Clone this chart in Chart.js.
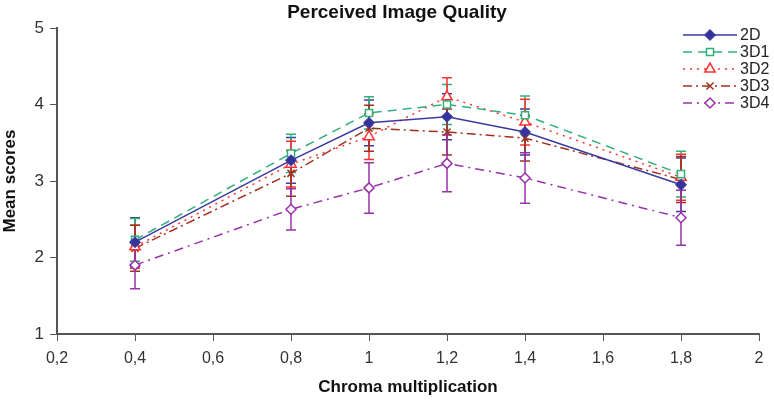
<!DOCTYPE html>
<html>
<head>
<meta charset="utf-8">
<script src="https://cdn.jsdelivr.net/npm/chart.js@4.4.1/dist/chart.umd.min.js"></script>
<style>
  html, body { margin: 0; padding: 0; background: #ffffff; }
  #wrap { width: 774px; height: 403px; }
</style>
</head>
<body>
<div id="wrap"><canvas id="qualityChart" width="774" height="403"></canvas></div>
<script>
// Perceived image quality - mean scores per chroma multiplication

const chromaValues = [0.4, 0.8, 1, 1.2, 1.4, 1.8];
const xTicks = [0.2, 0.4, 0.6, 0.8, 1, 1.2, 1.4, 1.6, 1.8, 2];
const yTicks = [1, 2, 3, 4, 5];

const seriesNames = ['2D', '3D1', '3D2', '3D3', '3D4'];

const scores2D  = [2.20, 3.27, 3.76, 3.84, 3.64, 2.95];
const scores3D1 = [2.23, 3.36, 3.89, 4.00, 3.86, 3.09];
const scores3D2 = [2.14, 3.22, 3.58, 4.10, 3.77, 3.05];
const scores3D3 = [2.12, 3.10, 3.69, 3.64, 3.56, 3.02];
const scores3D4 = [1.90, 2.63, 2.91, 3.23, 3.04, 2.52];

const err2D  = [0.32, 0.30, 0.30, 0.30, 0.30, 0.35];
const err3D1 = [0.28, 0.25, 0.21, 0.26, 0.25, 0.30];
const err3D2 = [0.28, 0.30, 0.30, 0.25, 0.30, 0.30];
const err3D3 = [0.30, 0.30, 0.30, 0.30, 0.30, 0.30];
const err3D4 = [0.31, 0.27, 0.33, 0.37, 0.33, 0.36];

const styles = [
    { color: '#3a3aa0', dash: [], point: 'rectRot', fill: '#33339a', radius: 5 },
    { color: '#33b07a', dash: [9, 6], point: 'rect', fill: '#ffffff', radius: 5 },
    { color: '#ff3030', dash: [2, 5], point: 'triangle', fill: '#ffffff', radius: 6 },
    { color: '#a0301e', dash: [9, 4, 2, 4], point: 'crossRot', fill: '#a0301e', radius: 5 },
    { color: '#9933aa', dash: [9, 5, 2, 5], point: 'rectRot', fill: '#ffffff', radius: 5 }
];

const allScores = [scores2D, scores3D1, scores3D2, scores3D3, scores3D4];
const allErrors = [err2D, err3D1, err3D2, err3D3, err3D4];

const FONT = '"Liberation Sans", Arial, sans-serif';

const datasets = seriesNames.map((name, i) => ({
    label: name,
    data: chromaValues.map((x, j) => ({ x: x, y: allScores[i][j] })),
    errors: allErrors[i],
    borderColor: styles[i].color,
    borderWidth: 1.5,
    borderDash: styles[i].dash,
    pointStyle: styles[i].point,
    pointRadius: styles[i].radius,
    pointBorderWidth: 1.5,
    pointBorderColor: styles[i].color,
    pointBackgroundColor: styles[i].fill,
    fill: false,
    tension: 0
}));

const errorBarPlugin = {
    id: 'errorBars',
    beforeDatasetsDraw(chart) {
        const ctx = chart.ctx;
        const xs = chart.scales.x;
        const ys = chart.scales.y;
        ctx.save();
        chart.data.datasets.forEach(ds => {
            ctx.strokeStyle = ds.borderColor;
            ctx.lineWidth = 1.5;
            ds.data.forEach((p, j) => {
                const px = xs.getPixelForValue(p.x);
                const top = ys.getPixelForValue(p.y + ds.errors[j]);
                const bot = ys.getPixelForValue(p.y - ds.errors[j]);
                ctx.beginPath();
                ctx.moveTo(px, top); ctx.lineTo(px, bot);
                ctx.moveTo(px - 5, top); ctx.lineTo(px + 5, top);
                ctx.moveTo(px - 5, bot); ctx.lineTo(px + 5, bot);
                ctx.stroke();
            });
        });
        ctx.restore();
    }
};

const decorPlugin = {
    id: 'decor',
    afterDraw(chart) {
        const ctx = chart.ctx;
        ctx.save();
        ctx.fillStyle = '#111111';
        ctx.font = 'bold 19px ' + FONT;
        ctx.textAlign = 'center';
        ctx.textBaseline = 'middle';
        ctx.fillText('Perceived Image Quality', 397, 13);

        // legend in top right
        ctx.font = '16px ' + FONT;
        ctx.textAlign = 'left';
        chart.data.datasets.forEach((ds, i) => {
            const y = 35 + i * 17;
            ctx.strokeStyle = ds.borderColor;
            ctx.lineWidth = 1.5;
            ctx.setLineDash(ds.borderDash);
            ctx.beginPath();
            ctx.moveTo(683, y); ctx.lineTo(737, y);
            ctx.stroke();
            ctx.setLineDash([]);
            ctx.fillStyle = ds.pointBackgroundColor;
            ctx.strokeStyle = ds.borderColor;
            Chart.helpers.drawPoint(ctx, {
                pointStyle: ds.pointStyle,
                radius: ds.pointRadius,
                borderWidth: 1.5
            }, 710, y);
            ctx.fillStyle = '#222222';
            ctx.fillText(ds.label, 740, y + 1);
        });
        ctx.restore();
    }
};

const tickLabel = v => {
    const r = Math.round(v * 10) / 10;
    return Number.isInteger(r) ? String(r) : r.toFixed(1).replace('.', ',');
};

new Chart(document.getElementById('qualityChart'), {
    type: 'line',
    data: { datasets: datasets },
    options: {
        responsive: false,
        animation: false,
        layout: { padding: { top: 28, right: 15, left: 0, bottom: 0 } },
        scales: {
            x: {
                type: 'linear',
                min: 0.2,
                max: 2,
                afterBuildTicks: axis => { axis.ticks = xTicks.map(v => ({ value: v })); },
                afterFit: axis => { axis.height = 69; },
                border: { color: '#555555', width: 2 },
                grid: { drawOnChartArea: false, drawTicks: true, tickLength: 7, color: '#555555' },
                ticks: {
                    color: '#333333',
                    font: { family: FONT, size: 16 },
                    padding: 8,
                    maxRotation: 0,
                    callback: tickLabel
                },
                title: {
                    display: true,
                    text: 'Chroma multiplication',
                    color: '#111111',
                    font: { family: FONT, size: 17, weight: 'bold' },
                    padding: { top: 0, bottom: 5 }
                }
            },
            y: {
                min: 1,
                max: 5,
                afterBuildTicks: axis => { axis.ticks = yTicks.map(v => ({ value: v })); },
                afterFit: axis => { axis.width = 57; },
                border: { color: '#555555', width: 2 },
                grid: { drawOnChartArea: false, drawTicks: true, tickLength: 7, color: '#555555' },
                ticks: {
                    color: '#333333',
                    font: { family: FONT, size: 17 },
                    padding: 6,
                    callback: tickLabel
                },
                title: {
                    display: true,
                    text: 'Mean scores',
                    color: '#111111',
                    font: { family: FONT, size: 17, weight: 'bold' },
                    padding: { top: 0, bottom: 0 }
                }
            }
        },
        plugins: {
            legend: { display: false },
            title: { display: false },
            tooltip: { enabled: false }
        }
    },
    plugins: [errorBarPlugin, decorPlugin]
});
</script>
</body>
</html>
